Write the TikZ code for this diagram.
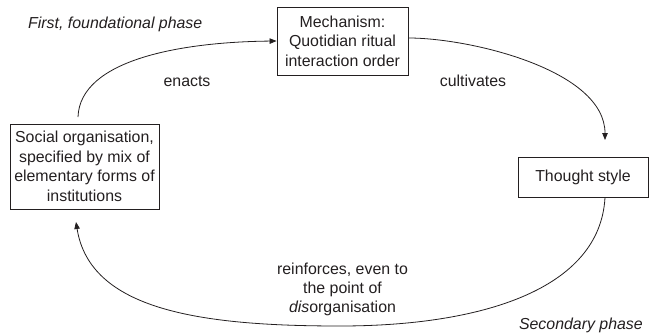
\documentclass[tikz,border=0pt]{standalone}
\usepackage{fontspec}
\setmainfont{Liberation Sans}
\usetikzlibrary{arrows.meta}
\definecolor{ink}{HTML}{231F20}
\tikzset{
  boxnode/.style={draw=ink, line width=0.9pt, text=ink, align=center, inner sep=0pt},
  arc/.style={draw=ink, line width=0.8pt, -{Triangle[length=7pt,width=5.5pt]}},
  lbl/.style={text=ink, align=center, inner sep=0pt}
}
\begin{document}
\begin{tikzpicture}[x=1pt,y=-1pt,font=\fontsize{15.9}{19.5}\selectfont]
\useasboundingbox (0,0) rectangle (651,335);
\node[boxnode, minimum width=131pt, minimum height=68pt] (mech) at (342.5,41) {Mechanism:\\Quotidian ritual\\interaction order};
\node[boxnode, minimum width=149pt, minimum height=85pt] (soc) at (84.5,166.5) {Social organisation,\\specified by mix of\\elementary forms of\\institutions};
\node[boxnode, minimum width=130pt, minimum height=40pt] (thought) at (583,177) {Thought style};

\coordinate (e0) at (78,117);
\coordinate (c1) at (605,140);
\coordinate (r1) at (76,222);
\coordinate (rb) at (340,326);

\draw[arc] (e0) .. controls (80,60) and (180,42) .. (mech.west);
\draw[arc] ([yshift=3pt]mech.east) .. controls (470,38) and (605,70) .. (c1);
\draw[arc] ([xshift=22pt]thought.south) .. controls (600,290) and (480,326) .. (rb) .. controls (200,326) and (90,310) .. (r1);

\node[lbl, font=\fontsize{15.9}{19.5}\selectfont\itshape, anchor=west] (first) at (28,24) {First, foundational phase};
\node[lbl] (enacts) at (187,81) {enacts};
\node[lbl] (cult) at (473,81) {cultivates};
\node[lbl, font=\fontsize{15.9}{19}\selectfont] (reinf) at (342.5,289) {reinforces, even to\\the point of\\\textit{dis}organisation};
\node[lbl, font=\fontsize{15.9}{19.5}\selectfont\itshape, anchor=east] (second) at (643,325) {Secondary phase};
\end{tikzpicture}
\end{document}
